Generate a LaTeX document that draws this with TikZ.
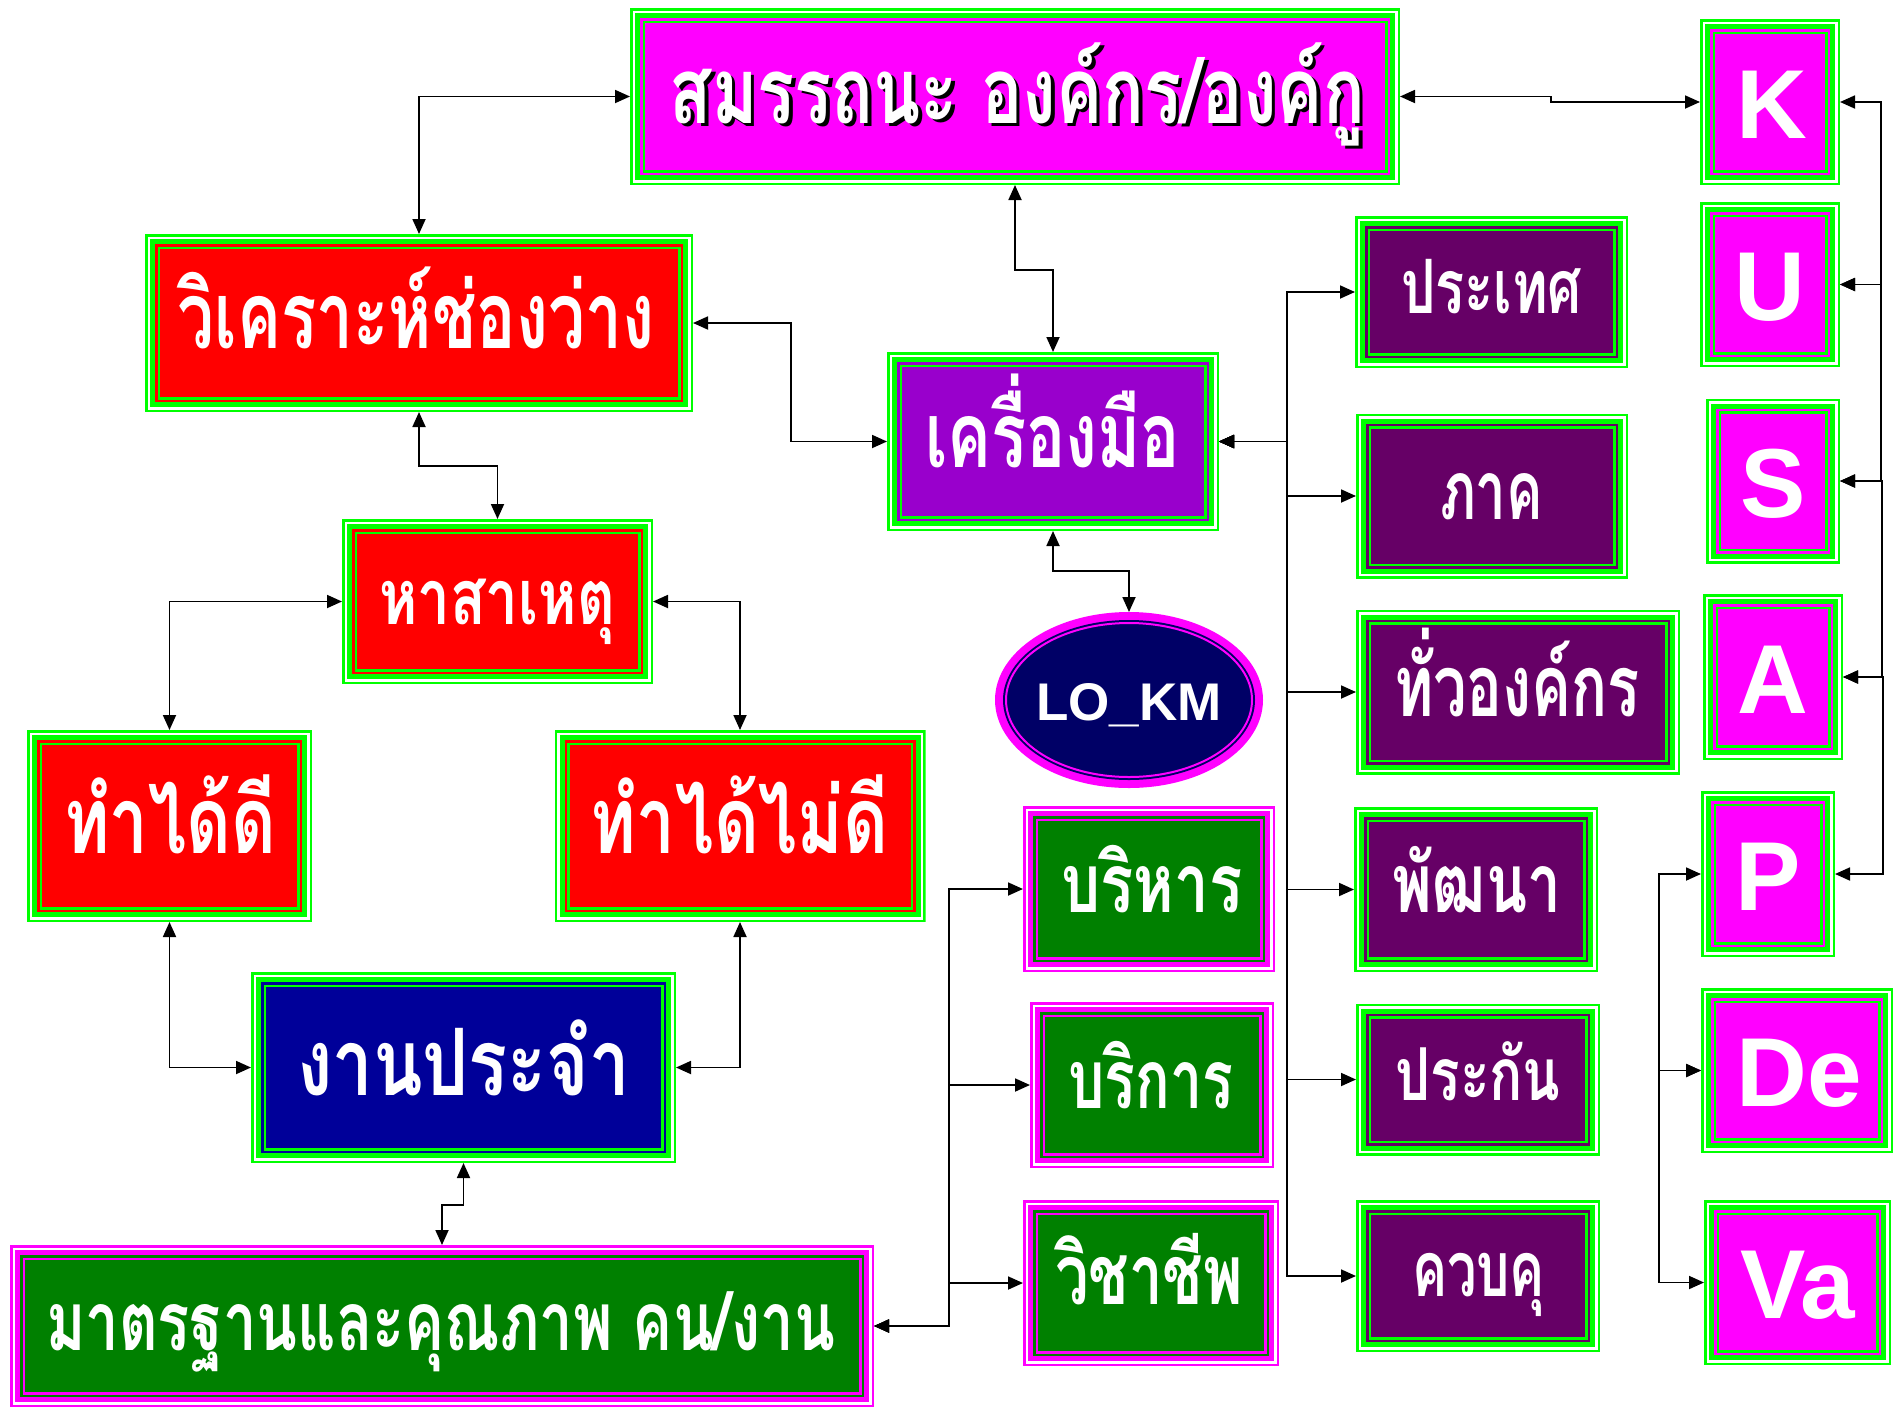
\documentclass[tikz,border=0pt]{standalone}
\usepackage{fontspec}
\usepackage{graphicx}
\setmainfont{Liberation Sans}
\newfontfamily\thai[Script=Thai]{Loma}
\usetikzlibrary{arrows.meta,shapes.geometric}
\definecolor{mag}{HTML}{FF00FF}
\definecolor{grn}{HTML}{00FF00}
\definecolor{rd}{HTML}{FF0000}
\definecolor{vio}{HTML}{9900CC}
\definecolor{plum}{HTML}{660066}
\definecolor{blu}{HTML}{000099}
\definecolor{dgr}{HTML}{008000}
\definecolor{nvy}{HTML}{000066}
\newcommand\TT[3]{\resizebox{#2pt}{\height}{\fontsize{#1}{#1}\selectfont\thai\bfseries #3}}
\tikzset{
 fr/.style 2 args={rectangle, inner sep=0pt, outer sep=0pt, fill=white,
  path picture={
   \draw[#1,line width=2.5pt] ([shift={(1.25pt,-1.25pt)}]path picture bounding box.north west) rectangle ([shift={(-1.25pt,1.25pt)}]path picture bounding box.south east);
   \fill[#1] ([shift={(5pt,-5pt)}]path picture bounding box.north west) rectangle ([shift={(-5pt,5pt)}]path picture bounding box.south east);
   \fill[#2] ([shift={(10pt,-10pt)}]path picture bounding box.north west) rectangle ([shift={(-10pt,10pt)}]path picture bounding box.south east);
   \draw[#1,line width=2.5pt] ([shift={(13.75pt,-13.75pt)}]path picture bounding box.north west) rectangle ([shift={(-13.75pt,13.75pt)}]path picture bounding box.south east);
  }},
 txt/.style={inner sep=0pt, outer sep=0pt, text=white, anchor=base},
 let/.style={inner sep=0pt, outer sep=0pt, text=white, anchor=base, font=\fontsize{98}{98}\selectfont\bfseries},
 con/.style={line width=1.8pt, {Triangle[length=15pt,width=13pt]}-{Triangle[length=15pt,width=13pt]}}
}
\begin{document}
\begin{tikzpicture}[x=1pt,y=-1pt]
\fill[white] (0,0) rectangle (1903,1408);
\useasboundingbox (0,0) rectangle (1903,1408);
% boxes
\node[fr={grn}{mag}, minimum width=770pt, minimum height=177pt] (top) at (1015,96.5) {};
\node[fr={grn}{mag}, minimum width=140pt, minimum height=166pt] (K) at (1770,102) {};
\node[fr={grn}{mag}, minimum width=140pt, minimum height=165pt] (U) at (1770,284.5) {};
\node[fr={grn}{mag}, minimum width=134pt, minimum height=165pt] (S) at (1773,481) {};
\node[fr={grn}{mag}, minimum width=140pt, minimum height=166pt] (A) at (1773,677) {};
\node[fr={grn}{mag}, minimum width=134pt, minimum height=166pt] (P) at (1768,874) {};
\node[fr={grn}{mag}, minimum width=192pt, minimum height=165pt] (De) at (1797,1070.5) {};
\node[fr={grn}{mag}, minimum width=187pt, minimum height=165pt] (Va) at (1797.5,1282.5) {};
\node[fr={grn}{rd}, minimum width=548pt, minimum height=178pt] (wk) at (419,323) {};
\node[fr={grn}{vio}, minimum width=332pt, minimum height=179pt] (km) at (1053,441.5) {};
\node[fr={grn}{plum}, minimum width=273pt, minimum height=152pt] (c1) at (1491.5,292) {};
\node[fr={grn}{plum}, minimum width=272pt, minimum height=165pt] (c2) at (1492,496) {};
\node[fr={grn}{plum}, minimum width=324pt, minimum height=165pt] (c3) at (1518,692) {};
\node[fr={grn}{plum}, minimum width=244pt, minimum height=165pt] (c4) at (1476,889.5) {};
\node[fr={grn}{plum}, minimum width=244pt, minimum height=152pt] (c5) at (1478,1079.5) {};
\node[fr={grn}{plum}, minimum width=244pt, minimum height=152pt] (c6) at (1478,1276) {};
\node[fr={grn}{rd}, minimum width=311pt, minimum height=165pt] (hs) at (497.5,601.5) {};
\node[fr={grn}{rd}, minimum width=285pt, minimum height=192pt] (good) at (169.5,826) {};
\node[fr={grn}{rd}, minimum width=371pt, minimum height=192pt] (bad) at (740,826) {};
\node[fr={grn}{blu}, minimum width=425pt, minimum height=191pt] (routine) at (463.5,1067.5) {};
\node[fr={mag}{dgr}, minimum width=864pt, minimum height=162pt] (std) at (442,1326) {};
\node[fr={mag}{dgr}, minimum width=252pt, minimum height=166pt] (m1) at (1149,889) {};
\node[fr={mag}{dgr}, minimum width=244pt, minimum height=166pt] (m2) at (1152,1085) {};
\node[fr={mag}{dgr}, minimum width=256pt, minimum height=166pt] (m3) at (1151,1283) {};
\node[ellipse, fill=mag, inner sep=0pt, outer sep=0pt, minimum width=268pt, minimum height=176pt,
  path picture={
   \fill[nvy] (path picture bounding box.center) ellipse [x radius=126pt, y radius=80pt];
   \draw[mag, line width=2pt, fill=nvy] (path picture bounding box.center) ellipse [x radius=123pt, y radius=77pt];
  }] (lokm) at (1129,700) {};
% texts
\node[txt, text=black] (tsh) at (1021,126.5) {\TT{92}{695}{สมรรถนะ องค์กร/องค์กู}};
\node[txt] (ttop) at (1017.5,123) {\TT{92}{695}{สมรรถนะ องค์กร/องค์กู}};
\node[txt] (twk) at (416,348) {\TT{93}{476}{วิเคราะห์ช่องว่าง}};
\node[txt] (tkm) at (1052.5,467) {\TT{91}{255}{เครื่องมือ}};
\node[txt] (ths) at (497,624) {\TT{77}{236}{หาสาเหตุ}};
\node[txt] (tgood) at (170,853) {\TT{93}{212}{ทำได้ดี}};
\node[txt] (tbad) at (739.5,853) {\TT{93}{297}{ทำได้ไม่ดี}};
\node[txt] (troutine) at (463.5,1095) {\TT{93}{333}{งานประจำ}};
\node[txt] (tm1) at (1152,912) {\TT{82}{181}{บริหาร}};
\node[txt] (tm2) at (1151,1108) {\TT{82}{165}{บริการ}};
\node[txt] (tm3) at (1149,1304) {\TT{84}{188}{วิชาชีพ}};
\node[txt] (tstd) at (440.5,1350) {\TT{82}{789}{มาตรฐานและคุณภาพ คน/งาน}};
\node[txt] (tc1) at (1491.5,313) {\TT{75}{181}{ประเทศ}};
\node[txt] (tc2) at (1491.5,519.5) {\TT{82}{103}{ภาค}};
\node[txt] (tc3) at (1517,716.5) {\TT{86}{246}{ทั่วองค์กร}};
\node[txt] (tc4) at (1476.5,912) {\TT{82}{169}{พัฒนา}};
\node[txt] (tc5) at (1478,1100) {\TT{73}{165}{ประกัน}};
\node[txt] (tc6) at (1478.5,1296.5) {\TT{77}{133}{ควบคุ}};
\node[let] (tK) at (1772,138) {K};
\node[let] (tU) at (1770,320.5) {U};
\node[let] (tS) at (1773,517) {S};
\node[let] (tA) at (1773,713) {A};
\node[let] (tP) at (1768,910) {P};
\node[let] (tDe) at (1799,1106.5) {De};
\node[let] (tVa) at (1797.5,1318.5) {Va};
\node[txt, font=\fontsize{53}{53}\selectfont\bfseries] (tlokm) at (1129,720) {LO\_KM};
% connectors
\draw[con] (top.west) -| (wk.north);
\draw[con] (top.east) -- ++(151,0) |- (K.west);
\draw[con] (top.south) -- ++(0,85) -| (km.north);
\draw[con] (wk.east) -- ++(98,0) |- (km.west);
\draw[con] (wk.south) -- ++(0,54) -| (hs.north);
\draw[con] (hs.west) -| (good.north);
\draw[con] (hs.east) -| (bad.north);
\draw[con] (good.south) |- (routine.west);
\draw[con] (bad.south) |- (routine.east);
\draw[con] (routine.south) -- ++(0,42) -| (std.north);
\draw[con] (std.east) -- ++(75,0) |- (m1.west);
\draw[con] (std.east) -- ++(75,0) |- (m2.west);
\draw[con] (std.east) -- ++(75,0) |- (m3.west);
\draw[con] (km.south) -- ++(0,40) -| (lokm.north);
\draw[con] (km.east) -- ++(68,0) |- (c1.west);
\draw[con] (km.east) -- ++(68,0) |- (c2.west);
\draw[con] (km.east) -- ++(68,0) |- (c3.west);
\draw[con] (km.east) -- ++(68,0) |- (c4.west);
\draw[con] (km.east) -- ++(68,0) |- (c5.west);
\draw[con] (km.east) -- ++(68,0) |- (c6.west);
\draw[con] (K.east) -- ++(41,0) |- (U.east);
\draw[con] (U.east) -- ++(41,0) |- (S.east);
\draw[con] (S.east) -- ++(42,0) |- (A.east);
\draw[con] (A.east) -- ++(40,0) |- (P.east);
\draw[con] (P.west) -- ++(-42,0) |- (De.west);
\draw[con] (De.west) -- ++(-42,0) |- (Va.west);
\end{tikzpicture}
\end{document}
